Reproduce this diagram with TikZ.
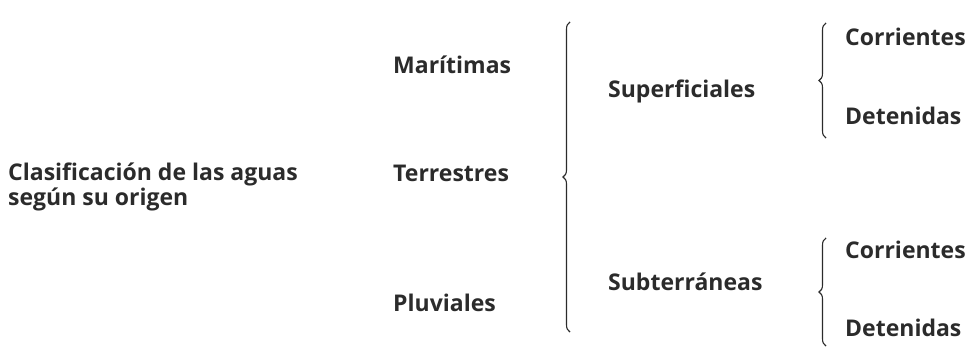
\documentclass[tikz,border=0pt]{standalone}
\usepackage{fontspec}
\setmainfont{Open Sans}
\usepackage{xcolor}
\usepackage{tikz}
\usetikzlibrary{positioning, decorations.pathreplacing}
\definecolor{texto}{HTML}{2B2B2B}

\begin{document}
\begin{tikzpicture}[x=1pt, y=-1pt]
	% Define styles
	\tikzset{
		label/.style={anchor=base west, inner sep=0pt, text=texto, font=\fontsize{23}{23}\selectfont\bfseries, align=left},
		llave/.style={draw=texto, line width=1.1pt, decorate, decoration={brace, amplitude=7pt}}
	}
	\useasboundingbox (0,0) rectangle (968,348);
	
	% Nodes
	\node[label] (clasif) at (8,205) {Clasificación de las aguas\\según su origen};
	
	\node[label] (mar) at (393,73) {Marítimas};
	\node[label] (ter) at (393,181) {Terrestres};
	\node[label] (plu) at (393,311) {Pluviales};
	
	\node[label] (sup) at (608,97) {Superficiales};
	\node[label] (sub) at (608,290) {Subterráneas};
	
	\node[label] (cor1) at (845,45) {Corrientes};
	\node[label] (det1) at (845,124) {Detenidas};
	\node[label] (cor2) at (845,258) {Corrientes};
	\node[label] (det2) at (845,336) {Detenidas};
	
	% Braces
	\coordinate (b1a) at (570,332);
	\coordinate (b1b) at (570,22);
	\coordinate (b2a) at (826,138);
	\coordinate (b2b) at (826,23);
	\coordinate (b3a) at (826,346);
	\coordinate (b3b) at (826,238);
	
	\path [llave] (b1a) -- (b1b);
	\path [llave] (b2a) -- (b2b);
	\path [llave] (b3a) -- (b3b);
\end{tikzpicture}
\end{document}
